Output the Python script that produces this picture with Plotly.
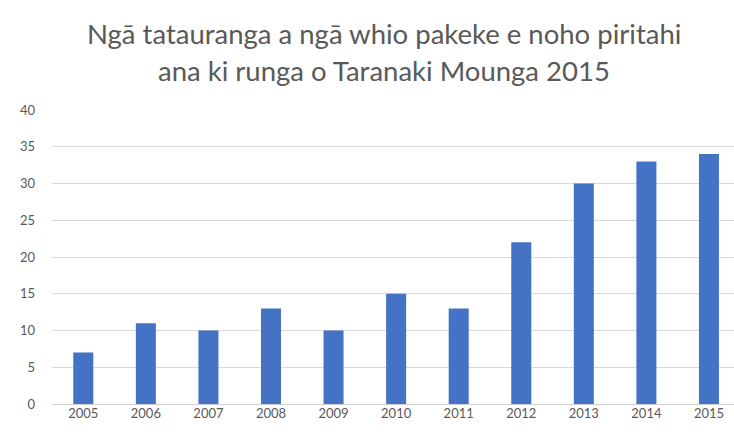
import plotly.graph_objects as go

years = ["2005", "2006", "2007", "2008", "2009", "2010", "2011", "2012", "2013", "2014", "2015"]
counts = [7, 11, 10, 13, 10, 15, 13, 22, 30, 33, 34]
y_ticks = [0, 5, 10, 15, 20, 25, 30, 35, 40]
title_lines = ["Ngā tatauranga a ngā whio pakeke e noho piritahi",
               "ana ki runga o Taranaki Mounga 2015"]

W, H = 734, 435
L, R, T, B = 52, 0, 110, 31
plot_h = H - T - B
plot_w = W - L - R

fig = go.Figure()
fig.add_trace(go.Bar(
    x=years, y=counts,
    marker=dict(color="#4472C4", line=dict(width=0)),
    width=0.32,
))

for line, ypx in zip(title_lines, [33, 70]):
    fig.add_annotation(
        text=line, xref="paper", yref="paper",
        x=(384 - L) / plot_w, y=(H - B - ypx) / plot_h,
        xanchor="center", yanchor="middle",
        showarrow=False,
        font=dict(family="Lato", size=27.5, color="#595959"),
    )

fig.update_layout(
    width=W, height=H,
    margin=dict(l=L, r=R, t=T, b=B),
    paper_bgcolor="white", plot_bgcolor="white",
    showlegend=False,
    font=dict(family="Lato", color="#595959", size=13),
)
fig.update_xaxes(
    type="category",
    range=[-0.5, 10.4],
    showgrid=False, showline=False, ticks="",
    tickfont=dict(size=13, color="#595959"),
)
fig.update_yaxes(
    range=[0, 40],
    tickvals=y_ticks,
    showgrid=True, gridcolor="#D9D9D9", gridwidth=1,
    zeroline=True, zerolinecolor="#D0D0D0", zerolinewidth=1,
    showline=False, ticks="",
    ticklabelstandoff=16,
    tickfont=dict(size=13, color="#595959"),
)

fig.write_html("out.html", config={"displayModeBar": False},
               post_script="document.body.style.margin='0';document.body.style.padding='0';")
